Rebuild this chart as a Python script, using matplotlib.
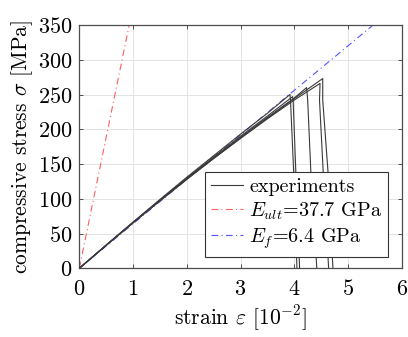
import numpy as np
import matplotlib
matplotlib.use("Agg")
import matplotlib.pyplot as plt

plt.rcParams['font.family'] = 'serif'
plt.rcParams['font.serif'] = ['cmr10', 'DejaVu Serif']
plt.rcParams['mathtext.fontset'] = 'cm'
plt.rcParams['axes.formatter.use_mathtext'] = True
plt.rcParams['axes.unicode_minus'] = False

# Experimental curves (strain in 1e-2, stress in MPa)
exp1_strain = [0, 0.5, 1.0, 1.5, 2.0, 2.5, 3.0, 3.5, 3.92, 3.93, 3.99, 4.05]
exp1_stress = [0, 33.5, 66.5, 99, 131, 162, 193, 223, 250, 242, 137, 0]
exp2_strain = [0, 0.5, 1.0, 1.5, 2.0, 2.5, 3.0, 3.5, 3.97, 3.98, 4.03, 4.10]
exp2_stress = [0, 33.3, 66, 98, 129.5, 160, 190, 219, 247, 240, 137, 0]
exp3_strain = [0, 0.5, 1.0, 1.5, 2.0, 2.5, 3.0, 3.5, 4.0, 4.23, 4.25, 4.31, 4.42]
exp3_stress = [0, 33.2, 65.8, 97.5, 129, 159, 188.5, 217, 245, 260, 242, 137, 0]
exp4_strain = [0, 0.5, 1.0, 1.5, 2.0, 2.5, 3.0, 3.5, 4.0, 4.48, 4.47, 4.54, 4.64]
exp4_stress = [0, 33, 65.5, 97, 128, 158, 187, 215, 242, 266, 242, 137, 0]
exp5_strain = [0, 0.5, 1.0, 1.5, 2.0, 2.5, 3.0, 3.5, 4.0, 4.53, 4.53, 4.63, 4.72]
exp5_stress = [0, 33, 65.5, 97, 128, 158, 187, 216, 244, 273, 242, 137, 0]

experiments = [(exp1_strain, exp1_stress), (exp2_strain, exp2_stress),
               (exp3_strain, exp3_stress), (exp4_strain, exp4_stress),
               (exp5_strain, exp5_stress)]

# Linear fits: modulus in GPa
E_ult = 37.7
E_f = 6.4
stress_max = 350

fig = plt.figure(figsize=(4.08, 3.37), dpi=100)
ax = fig.add_axes([0.1944, 0.2039, 0.7902, 0.7219])

for i, (s, t) in enumerate(experiments):
    ax.plot(s, t, color='#3a3a3a', lw=0.8, label='experiments' if i == 0 else None, zorder=3)

sig = np.array([0, stress_max])
ax.plot(sig / (E_ult * 10), sig, color='#ff6060', lw=0.8, ls=(0, (6, 3, 1, 3)),
        label=r'$E_{ult}$=37.7 GPa', zorder=2)
ax.plot(sig / (E_f * 10), sig, color='#5555ff', lw=0.8, ls=(0, (6, 3, 1, 3)),
        label=r'$E_f$=6.4 GPa', zorder=2)

ax.set_xlim(0, 6)
ax.set_ylim(0, 350)
ax.set_xticks(range(0, 7))
ax.set_yticks(range(0, 351, 50))
ax.grid(True, color='#e3e3e3', lw=0.7)
ax.set_axisbelow(True)
for sp in ax.spines.values():
    sp.set_color('#4d4d4d')
    sp.set_linewidth(0.9)
ax.tick_params(direction='in', top=True, right=True, length=3, width=0.7,
               color='#4d4d4d', labelsize=16)
ax.tick_params(axis='x', pad=8)
ax.tick_params(axis='y', pad=5)
ax.set_xlabel(r'strain $\varepsilon$ $[10^{-2}]$', fontsize=15.5, labelpad=3)
ax.set_ylabel(r'compressive stress $\sigma$ [MPa]', fontsize=15.5, labelpad=2)

leg = ax.legend(loc='lower right', bbox_to_anchor=(0.958, 0.048), fontsize=14.5,
                frameon=True, fancybox=False,
                edgecolor='#333333', framealpha=1, borderaxespad=0,
                handlelength=1.6, handletextpad=0.3, labelspacing=0.2,
                borderpad=0.3)
leg.get_frame().set_linewidth(0.8)

fig.savefig('out.png', dpi=100)
